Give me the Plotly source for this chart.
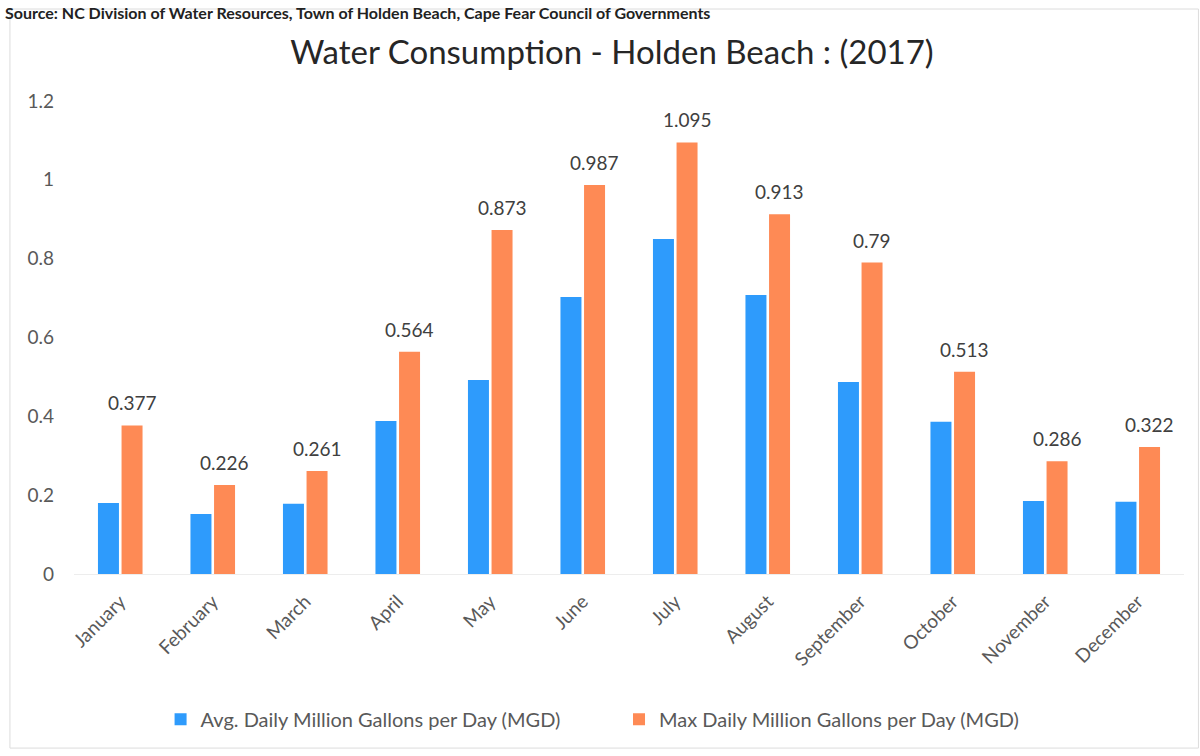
import plotly.graph_objects as go

months = ["January", "February", "March", "April", "May", "June",
          "July", "August", "September", "October", "November", "December"]
avg_mgd = [0.180, 0.152, 0.178, 0.388, 0.492, 0.703,
           0.850, 0.708, 0.487, 0.386, 0.185, 0.183]
max_mgd = [0.377, 0.226, 0.261, 0.564, 0.873, 0.987,
           1.095, 0.913, 0.790, 0.513, 0.286, 0.322]
y_ticks = [0, 0.2, 0.4, 0.6, 0.8, 1, 1.2]

BLUE = "#2E9BFC"
ORANGE = "#FE8A55"
FONT = "Lato"
TEXT_GREY = "#595959"

fig = go.Figure()
fig.add_trace(go.Bar(
    x=months, y=avg_mgd, name="Avg. Daily Million Gallons per Day (MGD)",
    marker=dict(color=BLUE, line=dict(width=0)), legend="legend",
))
fig.add_trace(go.Bar(
    x=months, y=max_mgd, name="Max Daily Million Gallons per Day (MGD)",
    marker=dict(color=ORANGE, line=dict(width=0)), legend="legend2",
))

# value labels above the max-day bars
annotations = []
for m, v in zip(months, max_mgd):
    annotations.append(dict(
        x=m, y=v, xref="x", yref="y", text=f"{v:g}", showarrow=False,
        xanchor="center", yanchor="bottom", xshift=12, yshift=9,
        font=dict(family=FONT, size=19, color="#404040"),
    ))

# source line along the top edge
annotations.append(dict(
    x=-0.064, y=1, xref="paper", yref="paper", xanchor="left", yanchor="top",
    yshift=100, showarrow=False,
    text="<b>Source: NC Division of Water Resources, Town of Holden Beach, Cape Fear Council of Governments</b>",
    font=dict(family=FONT, size=16, color="#222222"),
))

legend_common = dict(
    orientation="h", xanchor="left", y=-0.307, yanchor="middle",
    font=dict(family=FONT, size=20, color=TEXT_GREY),
    bgcolor="rgba(0,0,0,0)",
)

fig.update_layout(
    width=1200, height=756,
    margin=dict(l=74, r=16, t=101, b=182),
    paper_bgcolor="white", plot_bgcolor="white",
    title=dict(
        text="Water Consumption - Holden Beach : (2017)",
        x=0.51, xanchor="center", y=0.931, yanchor="middle",
        font=dict(family=FONT, size=33, color="#262626"),
    ),
    barmode="group", bargap=0.49, bargroupgap=0.11,
    showlegend=True,
    legend=dict(x=0.078, **legend_common),
    legend2=dict(x=0.491, **legend_common),
    xaxis=dict(
        range=[-0.5, 11.5], tickangle=-45, showgrid=False,
        showline=True, linecolor="#ededed", linewidth=1, ticks="",
        ticklabelstandoff=8,
        tickfont=dict(family=FONT, size=19, color=TEXT_GREY),
    ),
    yaxis=dict(
        range=[0, 1.2], tickvals=y_ticks, ticktext=[f"{t:g}" for t in y_ticks],
        showgrid=False, zeroline=False, showline=False, ticks="",
        ticklabelstandoff=19,
        tickfont=dict(family=FONT, size=19, color=TEXT_GREY),
    ),
    annotations=annotations,
    shapes=[dict(
        type="rect", xref="paper", yref="paper",
        x0=-0.0577, x1=1.013, y0=-0.368, y1=1.1945,
        line=dict(color="#dcdcdc", width=1), fillcolor="rgba(0,0,0,0)",
    )],
)

fig.write_html("out.html")
